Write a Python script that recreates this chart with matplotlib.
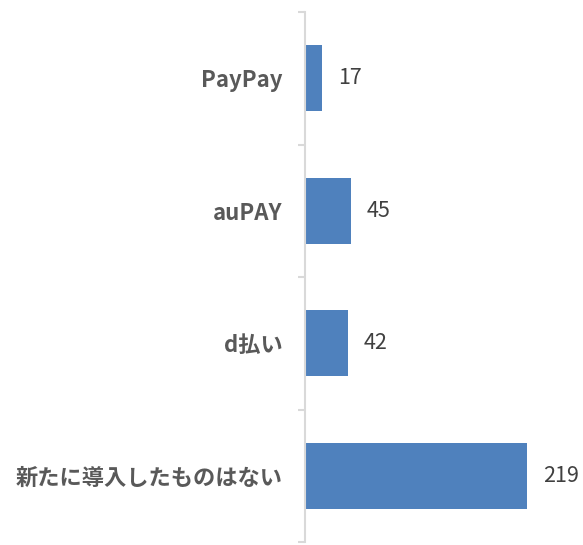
import numpy as np
import matplotlib
matplotlib.use('Agg')
import matplotlib.pyplot as plt

plt.rcParams['font.family'] = ['Noto Sans CJK JP', 'DejaVu Sans']

categories = ['PayPay', 'auPAY', 'd払い', '新たに導入したものはない']
values = [17, 45, 42, 219]

bar_color = '#4F81BD'
axis_color = '#D9D9D9'

fig = plt.figure(figsize=(5.83, 5.45), dpi=100)
ax = fig.add_axes([305 / 583, 3 / 545, 278 / 583, 530 / 545])

pos = np.arange(len(categories))
ax.barh(pos, values, height=0.5, color=bar_color)

for p, v in zip(pos, values):
    ax.text(v + 16 / 1.014, p, str(v), va='center', ha='left',
            fontsize=15.5, color='#404040')

ax.set_xlim(0, 274)
ax.set_ylim(len(categories) - 0.5, -0.5)

ax.set_yticks(pos)
ax.set_yticklabels(categories, fontsize=16, fontweight='bold', color='#595959')
ax.tick_params(axis='y', which='major', length=0, pad=16)
ax.set_yticks(np.arange(len(categories) + 1) - 0.5, minor=True)
ax.tick_params(axis='y', which='minor', length=5, color=axis_color, width=1.5)
ax.set_xticks([])

for s in ['top', 'right', 'bottom']:
    ax.spines[s].set_visible(False)
ax.spines['left'].set_color(axis_color)
ax.spines['left'].set_linewidth(1.5)

fig.savefig('out.png', dpi=100)
